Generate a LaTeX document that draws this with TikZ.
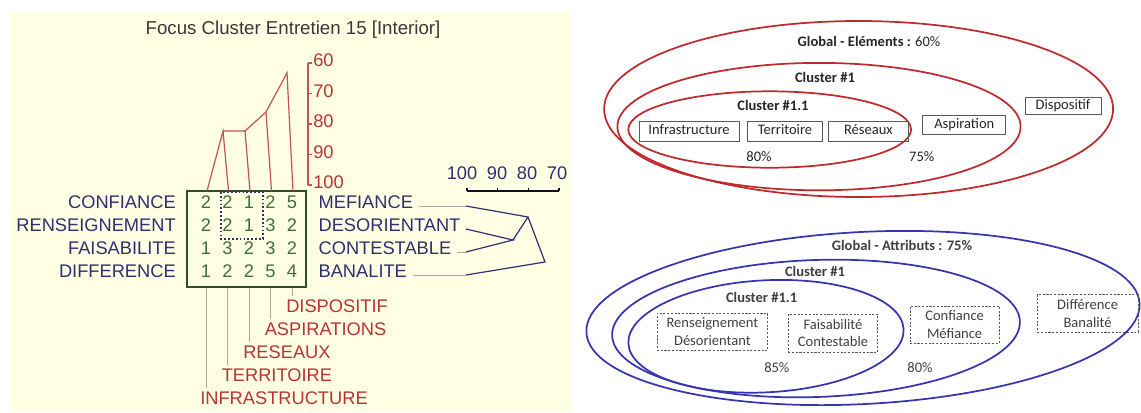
\documentclass[tikz,border=0pt]{standalone}
\usepackage{fontspec}
\setmainfont{Carlito}
\newfontfamily\arialf{Liberation Sans}
\usetikzlibrary{calc}
\definecolor{cream}{HTML}{FFFFE4}
\definecolor{ink}{HTML}{2F2F72}
\definecolor{leaf}{HTML}{3D6E3D}
\definecolor{frame}{HTML}{2E4E2E}
\definecolor{rust}{HTML}{B83434}
\definecolor{ruby}{HTML}{BE2A2E}
\definecolor{royal}{HTML}{3535B0}
\definecolor{wire}{HTML}{A9A9A9}

\begin{document}
\begin{tikzpicture}[x=0.75pt,y=-0.75pt,
  lab/.style={font=\arialf\fontsize{13.7}{16}\selectfont,inner sep=0pt},
  redln/.style={rust!85!white,line width=0.9pt},
  bluln/.style={ink,line width=0.9pt},
  greyln/.style={wire,line width=0.7pt},
  ring/.style={line width=1.3pt},
  txt/.style={font=\fontsize{10.9}{13.3}\selectfont,inner sep=0pt,text=black!85},
  box/.style 2 args={draw=black!65,line width=0.6pt,minimum width=#1*0.75pt,minimum height=#2*0.75pt,txt},
  elt/.style 2 args={box={#1}{#2},text height=8pt,text depth=2.5pt},
  attr/.style 2 args={box={#1}{#2},dash pattern=on 1.6pt off 1.2pt,align=center,text=black!75}]
  \useasboundingbox (0,0) rectangle (1141,412);
  \fill[cream] (10,12) rectangle (571,412);
  \node[lab,text=black!78,font=\arialf\fontsize{14}{16}\selectfont] (title) at (293,30) {Focus Cluster Entretien 15 [Interior]};
  \node[draw=frame,line width=1.1pt,minimum width=89.25pt,minimum height=72pt,inner sep=0pt] (mat) at (246.5,239) {};
  \foreach \lft/\rgt/\vals [count=\i] in {CONFIANCE/MEFIANCE/{2,2,1,2,5},RENSEIGNEMENT/DESORIENTANT/{2,2,1,3,2},FAISABILITE/CONTESTABLE/{1,3,2,3,2},DIFFERENCE/BANALITE/{1,2,2,5,4}}{
    \node[lab,ink,anchor=east] (rl\i) at (176,179+23*\i) {\lft};
    \node[lab,ink,anchor=west,inner xsep=4pt] (rr\i) at (313,179+23*\i) {\rgt};
    \foreach \v [count=\j] in \vals
      \node[lab,leaf] (d\i\j) at (184.5+21.5*\j,179+23*\i) {\v};
  }
  \draw[ink,line width=1.3pt,dash pattern=on 1.3pt off 1.6pt] (221,192) rectangle (263,239);
  \foreach \j in {1,...,5}
    \coordinate (t\j) at (185.5+21.5*\j,191);
  \coordinate (ma) at (223,131);
  \coordinate (mb) at (245,131);
  \coordinate (mc) at (266,112);
  \coordinate (md) at (287,73);
  \draw[redln] (t1) -- (ma) -- (t2) (ma) -- (mb) -- (t3) (mb) -- (mc) -- (t4) (mc) -- (md) -- (t5);
  \draw[redln] (308,63) -- (308,185);
  \foreach \v [count=\k] in {60,70,80,90,100}{
    \draw[redln] (308,32.5+30.5*\k) -- (312,32.5+30.5*\k);
    \node[lab,rust,anchor=west] (ax\k) at (313,30+30.5*\k) {\v};
  }
  \foreach \nm [count=\j] in {INFRASTRUCTURE,TERRITOIRE,RESEAUX,ASPIRATIONS,DISPOSITIF}{
    \node[lab,rust,anchor=west,inner ysep=2.5pt] (bl\j) at (178.5+21.5*\j,421-23*\j) {\nm};
    \draw[greyln] (d4\j |- mat.south) -- (bl\j.north -| d4\j);
  }
  \foreach \i/\ly in {1/206,2/229,3/252,4/275}{
    \coordinate (e\i) at (466,\ly);
    \draw[greyln] (rr\i.east |- e\i) -- (e\i);
  }
  \coordinate (na) at (528,217);
  \coordinate (nb) at (513,240);
  \coordinate (nc) at (545,262);
  \draw[bluln] (e2) -- (nb) -- (e3) (nb) -- (na) -- (e1) (na) -- (nc) -- (e4);
  \draw[bluln,black!70!ink] (467,191) -- (559,191);
  \foreach \v/\tx/\lx [count=\k] in {100/467/462,90/497.7/497,80/528.3/527,70/559/557}{
    \draw[bluln,black!70!ink] (\tx,191) -- (\tx,187.5);
    \node[lab,ink] (sc\k) at (\lx,173) {\v};
  }

  \draw[ruby,ring] (858.6,109) ellipse [x radius=254.5,y radius=88];
  \draw[ruby,ring] (819,126.6) ellipse [x radius=201.6,y radius=63.7];
  \draw[ruby,ring] (769.7,129.5) ellipse [x radius=141.4,y radius=38.2];
  \node[txt] (gel) at (869,41.5) {\textbf{Global - Eléments :} 60\%};
  \node[txt] (gc1) at (825,77) {\textbf{Cluster \#1}};
  \node[txt] (gc11) at (773,105) {\textbf{Cluster \#1.1}};
  \node[elt={100}{20}] (infra) at (689,131) {Infrastructure};
  \node[elt={75.6}{20}] (terr) at (785,131) {Territoire};
  \node[elt={79.3}{20}] (res) at (868.4,131) {Réseaux};
  \node[elt={83}{19.5}] (asp) at (964.3,125) {Aspiration};
  \node[elt={76}{17}] (disp) at (1063,105.8) {Dispositif};
  \node[txt] (p80) at (759,156.5) {80\%};
  \node[txt] (p75) at (921.7,156.5) {75\%};

  \draw[royal,ring,rotate around={3:(863,318)}] (863,318) ellipse [x radius=277,y radius=86];
  \draw[royal,ring,rotate around={2:(816,328.5)}] (816,328.5) ellipse [x radius=204,y radius=68.5];
  \draw[royal,ring,rotate around={3:(766,336.3)}] (766,336.3) ellipse [x radius=137.8,y radius=56];
  \node[txt,text=black!75] (gat) at (902,245) {\textbf{Global - Attributs : 75\%}};
  \node[txt,text=black!75] (bc1) at (815,271.5) {\textbf{Cluster \#1}};
  \node[txt,text=black!75] (bc11) at (761.6,297) {\textbf{Cluster \#1.1}};
  \node[attr={110.8}{37}] (rd) at (712.4,331.8) {Renseignement\\Désorientant};
  \node[attr={89.5}{37.8}] (fc) at (833,333.1) {Faisabilité\\Contestable};
  \node[attr={89.4}{37}] (cm) at (954.6,324.4) {Confiance\\Méfiance};
  \node[attr={100.8}{37.5}] (db) at (1087.6,313.3) {Différence\\Banalité};
  \node[txt,text=black!75] (p85) at (776.8,368) {85\%};
  \node[txt,text=black!75] (p80b) at (920,368) {80\%};
\end{tikzpicture}
\end{document}
